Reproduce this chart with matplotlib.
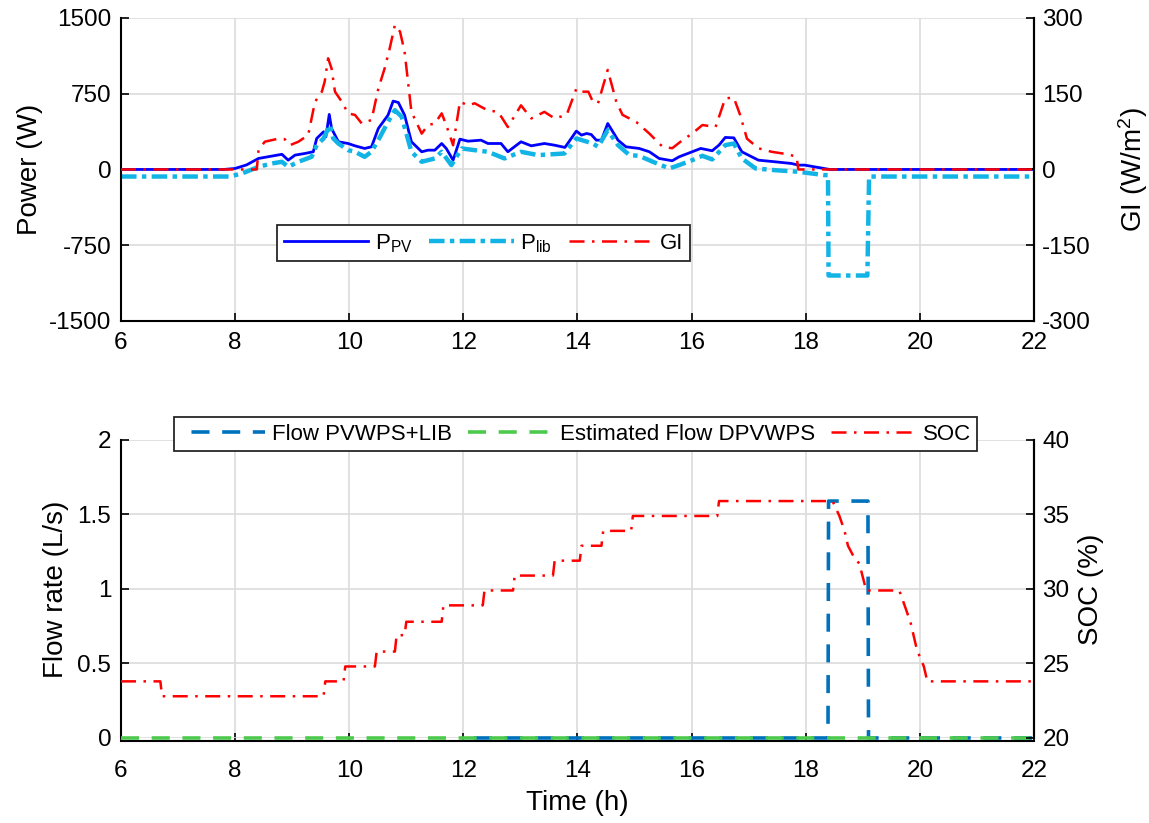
import numpy as np
import matplotlib
matplotlib.use('Agg')
import matplotlib.pyplot as plt

plt.rcParams['font.family'] = ['Liberation Sans', 'DejaVu Sans']
plt.rcParams['mathtext.fontset'] = 'custom'
plt.rcParams['mathtext.rm'] = 'Liberation Sans'
plt.rcParams['mathtext.it'] = 'Liberation Sans:italic'
plt.rcParams['axes.unicode_minus'] = False

## PV power (W)
t_pv = [6, 7.8, 8.0, 8.2, 8.41, 8.82, 8.93, 9.05, 9.22, 9.37, 9.43, 9.55, 9.59, 9.65, 9.69,
        9.81, 9.98, 10.1, 10.27, 10.39, 10.51, 10.68, 10.77, 10.86, 10.97, 11.09, 11.27,
        11.38, 11.5, 11.62, 11.7, 11.82, 11.94, 12.08, 12.31, 12.43, 12.66, 12.78, 13.01,
        13.19, 13.42, 13.6, 13.78, 13.89, 13.98, 14.07, 14.16, 14.24, 14.33, 14.42, 14.53,
        14.71, 14.85, 15.08, 15.26, 15.43, 15.66, 15.78, 16.01, 16.16, 16.36, 16.48, 16.59,
        16.74, 16.88, 17.17, 17.46, 17.75, 17.87, 17.98, 18.42, 22]
p_pv = [0, 0, 10, 45, 109, 150, 92, 142, 158, 175, 307, 373, 323, 545, 406,
        274, 257, 234, 208, 224, 406, 538, 677, 663, 538, 274, 175,
        191, 191, 257, 208, 92, 300, 280, 290, 257, 257, 175, 274,
        234, 257, 240, 218, 307, 380, 340, 356, 346, 290, 290, 455,
        290, 224, 208, 175, 109, 86, 125, 175, 208, 185, 241, 317,
        313, 175, 92, 76, 59, 43, 43, 0, 0]

## Battery power (W)
t_lib = [6, 7.9, 8.12, 8.41, 8.64, 8.82, 8.93, 9.11, 9.34, 9.43, 9.55, 9.66, 9.72, 9.81,
         9.98, 10.1, 10.27, 10.39, 10.54, 10.68, 10.8, 10.92, 11.09, 11.27, 11.5, 11.62,
         11.79, 11.97, 12.2, 12.43, 12.72, 13.01, 13.31, 13.77, 13.98, 14.27, 14.36, 14.53,
         14.71, 14.91, 15.08, 15.32, 15.61, 15.78, 16.01, 16.19, 16.36, 16.59, 16.74, 16.88,
         17.12, 17.46, 17.87, 18.33, 18.39, 18.40, 19.08, 19.11, 22]
p_lib = [-70, -70, -40, 26, 59, 76, 26, 76, 125, 241, 307, 439, 307, 257,
         191, 175, 125, 175, 323, 472, 587, 521, 175, 76, 109, 175,
         43, 208, 191, 175, 109, 175, 142, 158, 307, 257, 224, 389,
         241, 142, 135, 76, 10, 43, 92, 135, 99, 241, 257, 109,
         10, -7, -23, -56, -56, -1050, -1050, -70, -70]

## Global irradiance (W/m2)
t_gi = [6, 8.38, 8.41, 8.52, 8.76, 8.87, 8.96, 9.11, 9.28, 9.4, 9.52, 9.57, 9.63, 9.69,
        9.75, 9.87, 9.98, 10.1, 10.22, 10.39, 10.51, 10.62, 10.71, 10.8, 10.89, 10.97,
        11.09, 11.27, 11.38, 11.5, 11.62, 11.7, 11.82, 11.94, 12.08, 12.2, 12.31, 12.43,
        12.61, 12.78, 13.01, 13.19, 13.42, 13.6, 13.81, 13.98, 14.07, 14.19, 14.27, 14.36,
        14.53, 14.68, 14.79, 15.03, 15.26, 15.49, 15.66, 15.84, 16.01, 16.19, 16.42, 16.59,
        16.74, 16.85, 16.97, 17.17, 17.4, 17.69, 17.84, 17.87, 22]
gi = [0, 0, 38, 55, 61, 60, 48, 55, 68, 134, 154, 174, 220, 200,
      154, 134, 111, 108, 91, 98, 160, 200, 240, 286, 273, 233,
      114, 71, 88, 91, 111, 88, 48, 134, 127, 131, 124, 117,
      114, 84, 127, 101, 114, 101, 108, 160, 154, 154, 134, 131,
      197, 134, 108, 94, 71, 45, 42, 58, 71, 88, 84, 141,
      142, 108, 61, 42, 35, 30, 25, 0, 0]

## Flow rates (L/s)
t_flow = [12, 18.39, 18.40, 19.09, 19.10, 22]
flow_lib = [0, 0, 1.59, 1.59, 0, 0]
t_est = [6, 22]
flow_est = [0, 0]

## Battery state of charge (%)
t_soc = [6, 6.69, 6.72, 9.55, 9.58, 9.9, 9.93, 10.45, 10.48, 10.8, 10.83, 10.97, 11.0,
         11.62, 11.65, 12.34, 12.37, 12.87, 12.9, 13.57, 13.6, 14.04, 14.07, 14.42, 14.45,
         14.94, 14.97, 16.45, 16.48, 18.47, 18.59, 18.68, 18.74, 18.85, 18.94, 19.06,
         19.64, 19.76, 19.84, 19.95, 20.07, 20.13, 22]
soc = [23.8, 23.8, 22.8, 22.8, 23.8, 23.8, 24.8, 24.8, 25.8, 25.8, 26.9, 26.9, 27.8,
       27.8, 28.9, 28.9, 29.9, 29.9, 30.9, 30.9, 31.9, 31.9, 32.9, 32.9, 33.9,
       33.9, 34.9, 34.9, 35.9, 35.9, 34.9, 33.9, 32.9, 32.1, 31.7, 29.9,
       29.9, 28.6, 27.7, 25.9, 24.8, 23.8, 23.8]

hours = np.arange(6, 23, 2)

fig = plt.figure(figsize=(11.49, 8.23), dpi=100)
ax1 = fig.add_axes([0.1053, 0.6100, 0.7946, 0.3682])
ax3 = fig.add_axes([0.1053, 0.1033, 0.7946, 0.3621])


def style_axes(ax, twin, xpad):
    ax.set_xlim(6, 22)
    ax.set_xticks(hours)
    ax.tick_params(direction='in', length=6, width=1.2, labelsize=17.5, pad=7)
    ax.tick_params(axis='x', pad=xpad)
    ax.spines['top'].set_visible(False)
    for s in ['left', 'right', 'bottom']:
        ax.spines[s].set_linewidth(1.5)
    twin.tick_params(direction='in', length=6, width=1.2, labelsize=17.5, pad=6)
    for s in ['top', 'left', 'bottom']:
        twin.spines[s].set_visible(False)
    twin.spines['right'].set_linewidth(1.5)
    ax.grid(True, color='#dcdcdc', linewidth=1.2)


def add_legend(ax, handles, anchor):
    leg = ax.legend(handles=handles, ncol=3, loc='center', bbox_to_anchor=anchor,
                    fontsize=16, handlelength=3.8, columnspacing=0.75, handletextpad=0.3,
                    fancybox=False, edgecolor='#262626', framealpha=1, borderpad=0.3,
                    borderaxespad=0)
    leg.get_frame().set_linewidth(1.3)
    return leg


# top: power and irradiance
ax2 = ax1.twinx()
l1, = ax1.plot(t_pv, p_pv, color='#0000ff', lw=2.0, label='P$_{\\mathrm{PV}}$')
l2, = ax1.plot(t_lib, p_lib, color='#12b4e6', lw=3.2, dashes=(3.5, 1.2, 1.0, 1.2),
               label='P$_{\\mathrm{lib}}$')
l3, = ax2.plot(t_gi, gi, color='#ff0000', lw=1.8, dashes=(6, 3, 1, 3), label='GI')
ax1.set_ylim(-1500, 1500)
ax1.set_yticks([-1500, -750, 0, 750, 1500])
ax2.set_ylim(-300, 300)
ax2.set_yticks([-300, -150, 0, 150, 300])
ax1.set_ylabel('Power (W)', fontsize=20, labelpad=4)
ax2.set_ylabel('GI (W/m$^2$)', fontsize=20, labelpad=18)
style_axes(ax1, ax2, 8)
add_legend(ax2, [l1, l2, l3], (0.397, 0.256))

# bottom: flow rates and SOC
ax4 = ax3.twinx()
# blue dashes shifted half a period so they sit in the gaps of the green ones
f1, = ax3.plot(t_flow, flow_lib, color='#0072bd', lw=2.6, linestyle=(5.6, (5, 3.5)),
               label='Flow PVWPS+LIB', clip_on=False, zorder=3)
f2, = ax3.plot(t_est, flow_est, color='#4dc94d', lw=2.6, linestyle=(0, (5, 3.5)),
               label='Estimated Flow DPVWPS', clip_on=False, zorder=3)
f3, = ax4.plot(t_soc, soc, color='#ff0000', lw=1.8, dashes=(6, 3, 1, 3), label='SOC')
ax3.set_ylim(0, 2)
ax3.set_yticks([0, 0.5, 1, 1.5, 2])
ax3.set_yticklabels(['0', '0.5', '1', '1.5', '2'])
ax4.set_ylim(20, 40)
ax4.set_yticks([20, 25, 30, 35, 40])
ax3.set_ylabel('Flow rate (L/s)', fontsize=20, labelpad=6)
ax4.set_ylabel('SOC (%)', fontsize=20, labelpad=6)
ax3.set_xlabel('Time (h)', fontsize=20, labelpad=6)
style_axes(ax3, ax4, 13)
# keep the zero-flow dashes visible just above the axis line
ax3.spines['bottom'].set_position(('outward', 2.5))

add_legend(ax4, [f1, f2, f3], (0.498, 1.020))

fig.savefig('out.png', dpi=100)
